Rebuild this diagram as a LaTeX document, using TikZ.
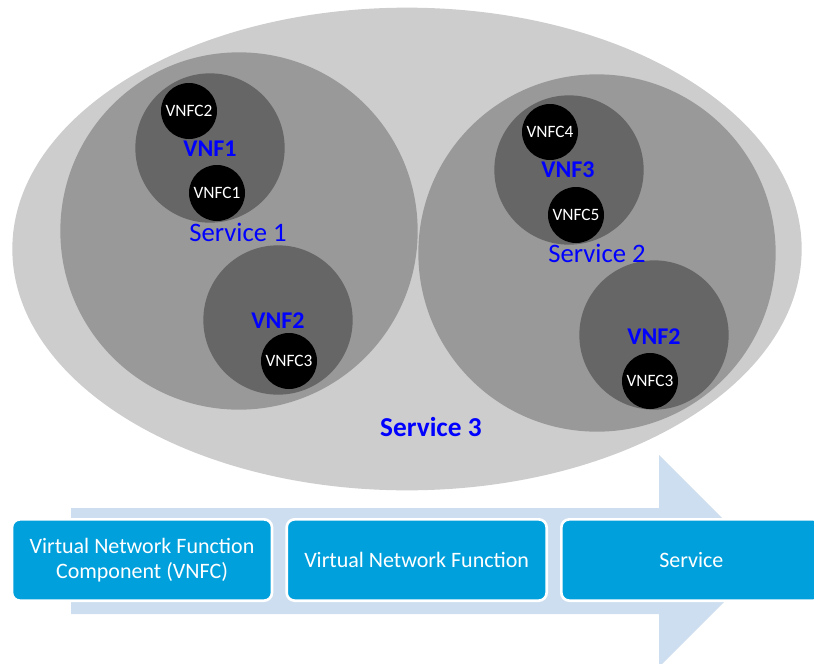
\documentclass[tikz,border=0pt]{standalone}
\usepackage{fontspec}
\setmainfont{Carlito}
\usetikzlibrary{positioning,shapes.geometric}
\definecolor{outergray}{RGB}{205,205,205}
\definecolor{svcgray}{RGB}{153,153,153}
\definecolor{vnfgray}{RGB}{102,102,102}
\definecolor{arrowblue}{RGB}{204,222,239}
\definecolor{boxblue}{RGB}{0,160,220}
\definecolor{lblblue}{RGB}{0,0,255}

\begin{document}
\begin{tikzpicture}[x=0.75pt, y=-0.75pt,
    svc/.style={circle, fill=svcgray, minimum size=268pt, inner sep=0pt},
    vnf/.style={circle, fill=vnfgray, minimum size=112pt, inner sep=0pt},
    vnfc/.style={circle, fill=black, text=white, minimum size=42pt, inner sep=0pt, font=\fontsize{13}{15}\selectfont},
    vnflbl/.style={text=lblblue, font=\fontsize{18}{20}\selectfont\bfseries},
    svclbl/.style={text=lblblue, font=\fontsize{20}{22}\selectfont},
    layer/.style={draw=white, line width=2pt, rounded corners=6pt, fill=boxblue, text=white, align=center,
      minimum width=195pt, minimum height=61pt, font=\fontsize{16.5}{19}\selectfont}]
  \useasboundingbox (0,0) rectangle (814,664);
  % services
  \node[ellipse, fill=outergray, minimum width=592pt, minimum height=362pt, inner sep=0pt] (s3) at (407,249) {};
  \node[svc] (s1) at (239,231) {};
  \node[svc] (s2) at (597,253) {};
  % network functions
  \node[vnf] (f1) at (210,148) {};
  \node[vnf] (f2) at (278,320) {};
  \node[vnf] (f3) at (569,170) {};
  \node[vnf] (f2b) at (654,335) {};
  % components
  \node[vnfc] (c2) at (189,111) {VNFC2};
  \node[vnfc] (c1) at (217,193) {VNFC1};
  \node[vnfc] (c3) at (289,361) {VNFC3};
  \node[vnfc] (c4) at (550,132) {VNFC4};
  \node[vnfc] (c5) at (576,215) {VNFC5};
  \node[vnfc] (c3b) at (650,381) {VNFC3};
  % labels
  \node[vnflbl] (l1) at (210,149) {VNF1};
  \node[vnflbl] (l2) at (278,321) {VNF2};
  \node[vnflbl] (l3) at (568,170) {VNF3};
  \node[vnflbl] (l2b) at (654,337) {VNF2};
  \node[svclbl] (ls1) at (238,232) {Service 1};
  \node[svclbl] (ls2) at (597,253) {Service 2};
  \node[svclbl, font=\fontsize{20.5}{22}\selectfont\bfseries] (ls3) at (431,427) {Service 3};
  % layer arrow
  \fill[arrowblue] (71,508) -- (659,508) -- (659,455) -- (765,561) -- (659,667) -- (659,614) -- (71,614) -- cycle;
  \node[layer] (b1) at (142,560) {Virtual Network Function\\Component (VNFC)};
  \node[layer, right=9pt of b1] (b2) {Virtual Network Function};
  \node[layer, right=9pt of b2] (b3) {Service};
\end{tikzpicture}
\end{document}
